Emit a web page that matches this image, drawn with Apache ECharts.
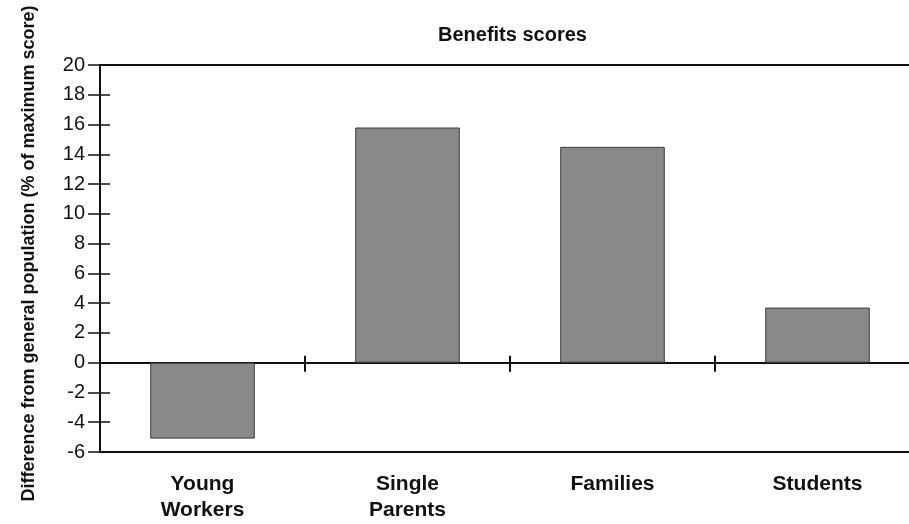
<!DOCTYPE html>
<html>
<head>
<meta charset="utf-8">
<title>Benefits scores</title>
<script src="https://cdn.jsdelivr.net/npm/echarts@6/dist/echarts.min.js"></script>
<style>
  html, body { margin: 0; padding: 0; background: #fff; }
  #box1 { width: 909px; height: 524px; }
</style>
</head>
<body>
<div id="box1"></div>
<script>
// groups along the x axis
var categories = ['Young\nWorkers', 'Single\nParents', 'Families', 'Students'];
// difference from general population, % of maximum score
var scores = [-5.1, 15.8, 14.5, 3.7];
// y axis range
var yMin = -6;
var yMax = 20;
var yStep = 2;

var myChart = echarts.init(document.getElementById('box1'));
var font = 'Liberation Sans, Arial, Helvetica, sans-serif';

var option = {
  animation: false,
  title: {
    text: 'Benefits scores',
    left: 433,
    top: 20,
    textStyle: { fontFamily: font, fontSize: 20, fontWeight: 'bold', color: '#111' }
  },
  grid: {
    left: 100,
    top: 65,
    right: -11,
    bottom: 72,
    outerBoundsMode: 'none',
    containLabel: false,
    show: true,
    borderColor: '#111',
    borderWidth: 2
  },
  xAxis: [{
    // zero line with ticks going down; labels stay under the plot
    type: 'category',
    data: categories,
    position: 'bottom',
    axisLine: { onZero: true, onZeroAxisIndex: 0, lineStyle: { color: '#111', width: 2 } },
    axisTick: { show: true, length: 9, lineStyle: { color: '#111', width: 2 } },
    axisLabel: {
      margin: 19,
      fontFamily: font, fontSize: 21, fontWeight: 'bold', color: '#111',
      lineHeight: 26
    },
    splitLine: { show: false }
  }, {
    // same zero line, ticks going up
    type: 'category',
    data: categories,
    position: 'top',
    axisLine: { show: false, onZero: true, onZeroAxisIndex: 1 },
    axisTick: { show: true, length: 7, lineStyle: { color: '#111', width: 2 } },
    axisLabel: { show: false },
    splitLine: { show: false }
  }],
  yAxis: [{
    type: 'value',
    min: yMin,
    max: yMax,
    interval: yStep,
    name: 'Difference from general population (% of maximum score)',
    nameLocation: 'middle',
    nameGap: 62,
    nameTextStyle: { fontFamily: font, fontSize: 18, fontWeight: 'bold', color: '#111', padding: [0, 0, 0, 10] },
    axisLine: { show: true, lineStyle: { color: '#111', width: 2 } },
    axisTick: { show: true, length: 12, lineStyle: { color: '#111', width: 1.5 } },
    axisLabel: { margin: 15, fontFamily: font, fontSize: 20, color: '#111' },
    splitLine: { show: false }
  }, {
    // ticks on the inner side of the axis
    type: 'value',
    min: yMin,
    max: yMax,
    interval: yStep,
    position: 'left',
    axisLine: { show: false },
    axisTick: { show: true, inside: true, length: 10, lineStyle: { color: '#111', width: 1.5 } },
    axisLabel: { show: false },
    splitLine: { show: false }
  }],
  series: [{
    name: 'Benefits scores',
    type: 'bar',
    xAxisIndex: 0,
    yAxisIndex: 0,
    data: scores,
    barWidth: '51%',
    itemStyle: { color: '#898989', borderColor: '#3a3a3a', borderWidth: 1 }
  }]
};

myChart.setOption(option);
</script>
</body>
</html>
